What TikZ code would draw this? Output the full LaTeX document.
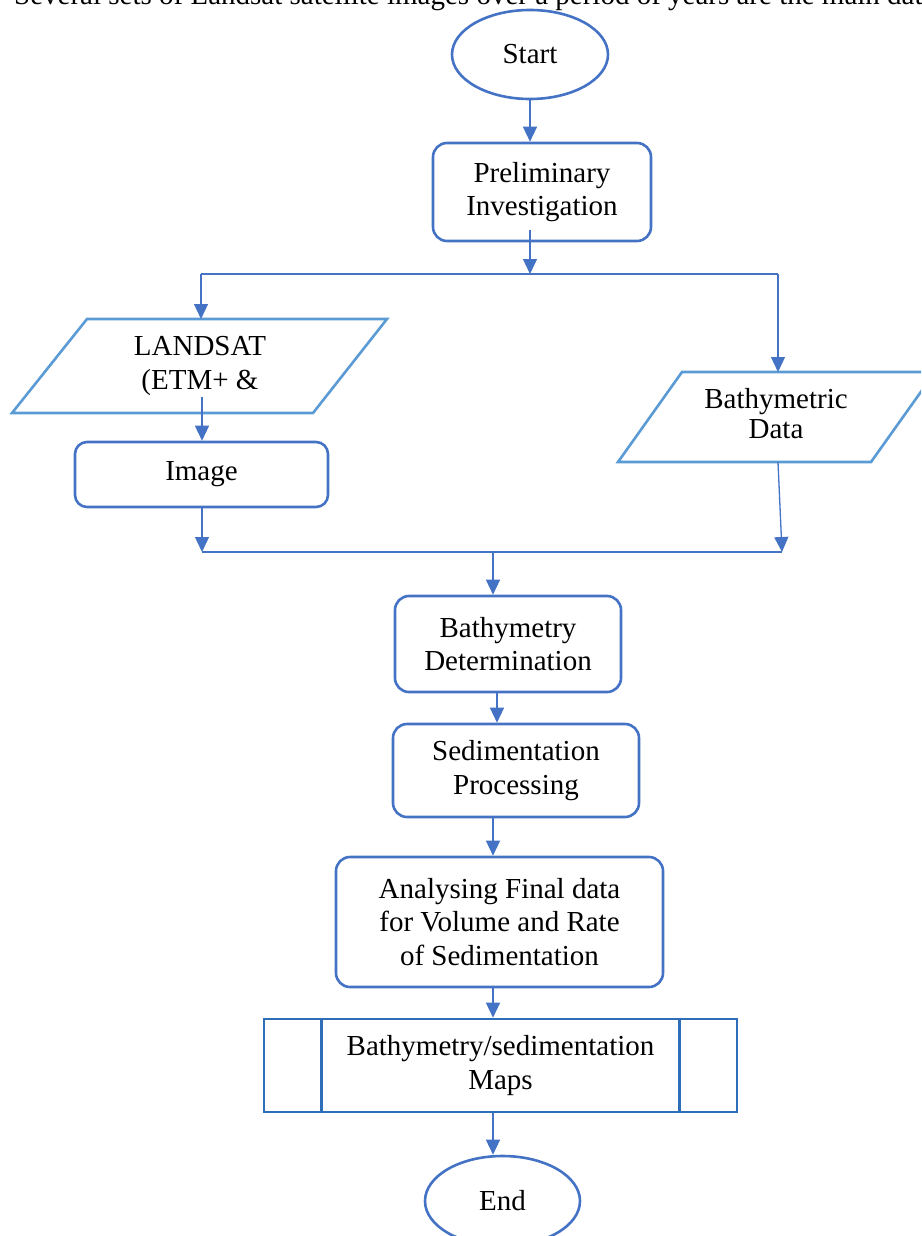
\documentclass[tikz,border=0pt]{standalone}
\usepackage{fontspec}
\setmainfont{Liberation Serif}
\usetikzlibrary{shapes.geometric,arrows.meta}
\definecolor{boxblue}{HTML}{4472C4}
\definecolor{parblue}{HTML}{5B9BD5}
\definecolor{procblue}{HTML}{2E6EB8}
\begin{document}
\begin{tikzpicture}[x=1pt,y=-1pt,
  lbl/.style={font=\fontsize{29}{33.5}\selectfont, align=center, inner sep=0pt},
  rbox/.style={draw=boxblue, line width=2.6pt, rounded corners=14pt, lbl},
  conn/.style={draw=boxblue, line width=1.3pt},
  arr/.style={conn, -{Triangle[length=15pt,width=14pt]}},
  oval/.style={draw=boxblue, line width=2.6pt, ellipse, lbl},
  para/.style={draw=parblue, line width=2.6pt, line join=miter}]
\useasboundingbox (0,0) rectangle (921,1236);
\clip (0,0) rectangle (921,1236);
% cut-off line of text above the chart
\node[anchor=base west, font=\fontsize{29}{33}\selectfont, inner sep=0pt] (intro) at (14,5) {Several sets of Landsat satellite images over a period of years are the main data};
% terminals and process boxes
\node[oval, minimum width=156pt, minimum height=89pt] (start) at (530,54.5) {Start};
\node[rbox, minimum width=218pt, minimum height=98pt] (prelim) at (542,192) {Preliminary\\Investigation};
% input parallelograms
\draw[para] (87,319) -- (387,319) -- (313,413) -- (12,413) -- cycle;
\node[lbl] (landsat) at (200,366) {LANDSAT\\(ETM+ \&};
\draw[para] (682,372) -- (935,372) -- (871,462) -- (618,462) -- cycle;
\node[lbl, font=\fontsize{29}{30}\selectfont] (bathy) at (776,414) {Bathymetric\\Data};
\node[rbox, rounded corners=12pt, minimum width=253pt, minimum height=65pt] (image) at (201.5,474.5) {Image};
\node[rbox, minimum width=226pt, minimum height=96pt] (bdet) at (508,644) {Bathymetry\\Determination};
\node[rbox, minimum width=246pt, minimum height=93pt] (sedp) at (516,770.5) {Sedimentation\\Processing};
\node[rbox, minimum width=327pt, minimum height=130pt] (anal) at (499.5,922) {Analysing Final data\\for Volume and Rate\\of Sedimentation};
\node[draw=procblue, line width=2.6pt, lbl, minimum width=473pt, minimum height=93pt] (maps) at (500.5,1065.5) {Bathymetry/sedimentation\\Maps};
\draw[procblue, line width=2.6pt] ([xshift=59pt]maps.north west) -- ([xshift=59pt]maps.south west)
  ([xshift=-59pt]maps.north east) -- ([xshift=-59pt]maps.south east);
\node[oval, minimum width=155pt, minimum height=90pt] (endn) at (502.5,1201) {End};
% coordinates for connectors
\coordinate (p1) at (530,230);
\coordinate (split) at (530,274);
\coordinate (lsplit) at (201,274);
\coordinate (rsplit) at (778,274);
\coordinate (ltop) at (201,319);
\coordinate (btop) at (778,372);
\coordinate (l1) at (202,397);
\coordinate (b1) at (778,462);
\coordinate (jl) at (202,552);
\coordinate (jr) at (782,552);
\coordinate (jm) at (493,552);
% connectors
\draw[arr] (start.south) -- (start.south |- prelim.north);
\draw[arr] (p1) -- (split);
\draw[conn] (lsplit) -- (rsplit);
\draw[arr] (lsplit) -- (ltop);
\draw[arr] (rsplit) -- (btop);
\draw[arr] (l1) -- (l1 |- image.north);
\draw[arr] (l1 |- image.south) -- (jl);
\draw[arr] (b1) -- (jr);
\draw[conn] (jl) -- (jr);
\draw[arr] (jm) -- (jm |- bdet.north);
\draw[arr] ([xshift=-11pt]bdet.south) -- ([xshift=-11pt]bdet.south |- sedp.north);
\draw[arr] ([xshift=-23pt]sedp.south) -- ([xshift=-23pt]sedp.south |- anal.north);
\draw[arr] ([xshift=-6.5pt]anal.south) -- ([xshift=-6.5pt]anal.south |- maps.north);
\draw[arr] ([xshift=-7.5pt]maps.south) -- ([xshift=-7.5pt]maps.south |- endn.north);
\end{tikzpicture}
\end{document}
